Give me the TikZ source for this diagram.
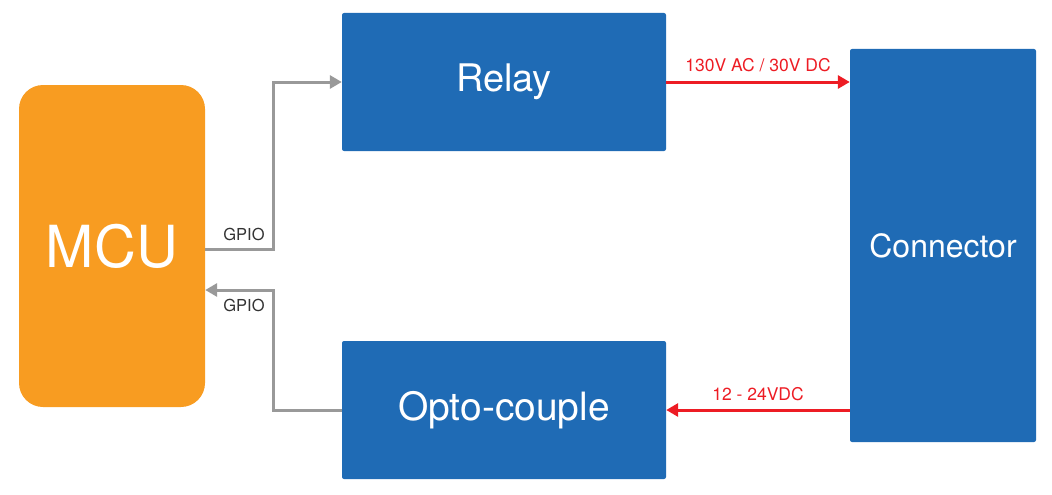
\documentclass[tikz,border=0pt]{standalone}
\usepackage{fontspec}
\setmainfont{TeX Gyre Heros}
\usetikzlibrary{arrows.meta}
\definecolor{bx}{HTML}{1F6BB5}
\definecolor{og}{HTML}{F89C21}
\definecolor{gy}{HTML}{999999}
\definecolor{rd}{HTML}{ED1C24}
\definecolor{tx}{HTML}{333333}
\tikzset{
  blk/.style={fill=bx, draw=none, rounded corners=2pt, text=white, inner sep=0pt},
  gline/.style={draw=gy, line width=3pt, -{Triangle[length=12pt,width=13pt]}},
  rline/.style={draw=rd, line width=3pt, -{Triangle[length=12pt,width=13pt]}},
  glab/.style={text=tx, font=\fontsize{16.5}{19}\selectfont, inner sep=0pt},
  rlab/.style={text=rd, font=\fontsize{17.5}{20}\selectfont, inner sep=0pt}
}
\begin{document}
\begin{tikzpicture}[x=1pt,y=-1pt]
\useasboundingbox (0,0) rectangle (1052,495);
\node[fill=og, draw=none, rounded corners=24pt, minimum width=186pt, minimum height=322pt, inner sep=0pt, text=white, font=\fontsize{58}{66}\selectfont] (mcu) at (112,246) {MCU};
\node[blk, minimum width=324pt, minimum height=138pt, font=\fontsize{38}{44}\selectfont] (relay) at (504,82) {\raisebox{-2pt}{Relay}};
\node[blk, minimum width=324pt, minimum height=138pt, font=\fontsize{39}{44}\selectfont] (opto) at (504,410) {\raisebox{-2pt}{Opto-couple}};
\node[blk, minimum width=186pt, minimum height=393pt, font=\fontsize{32}{38}\selectfont] (conn) at (943,245.5) {Connector};
\coordinate (g1) at (273,249);
\coordinate (g2) at (273,290);
\draw[gline] (mcu.east |- g1) -| (g1 |- relay.west) -- (relay.west);
\draw[gline] (opto.west) -| (g2) -- (mcu.east |- g2);
\draw[rline] (relay.east) -- (conn.west |- relay.east);
\draw[rline] (conn.west |- opto.east) -- (opto.east);
\node[glab] (l1) at (244,234) {GPIO};
\node[glab] (l2) at (244,305) {GPIO};
\node[rlab] (l3) at (758,65) {130V AC / 30V DC};
\node[rlab] (l4) at (758,394) {12 - 24VDC};
\end{tikzpicture}
\end{document}
